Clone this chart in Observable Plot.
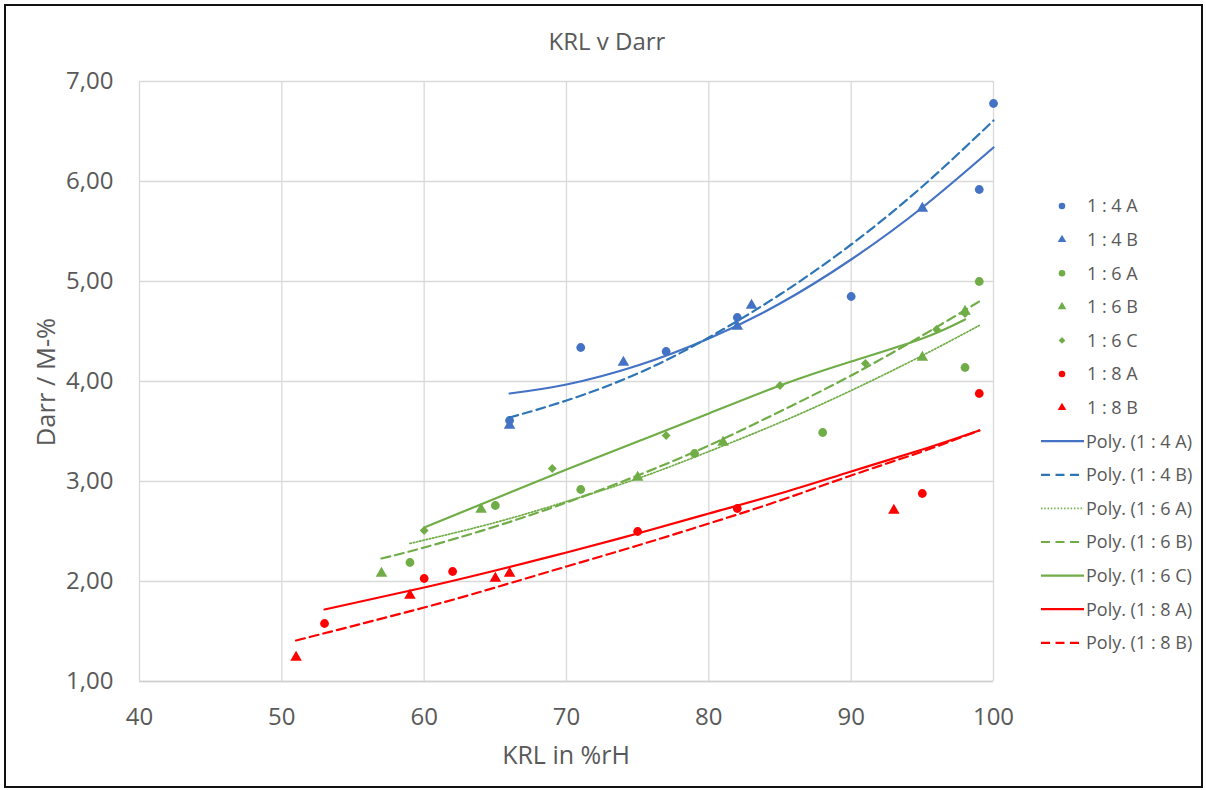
<!DOCTYPE html>
<html>
<head>
<meta charset="utf-8">
<script src="https://cdn.jsdelivr.net/npm/d3@7"></script>
<script src="https://cdn.jsdelivr.net/npm/@observablehq/plot@0.6"></script>
<style>
  body { margin: 0; background: #fff; font-family: "Open Sans", Lato, sans-serif; }
  #wrap { position: relative; width: 1206px; height: 790px; overflow: hidden; background: #fff; }
  #frame { position: absolute; left: 4px; top: 4px; width: 1195px; height: 780px; border: 2px solid #111; box-sizing: content-box; pointer-events: none; }
  .lbl { position: absolute; transform: translate(-50%, -50%); color: #595959; white-space: nowrap; }
  #chart { position: absolute; left: 0; top: 0; }
  #legend { position: absolute; left: 0; top: 0; pointer-events: none; }
</style>
</head>
<body>
<div id="wrap">
  <div id="chart"></div>
  <svg id="legend" width="1206" height="790"></svg>
  <div class="lbl" style="left:607px; top:40px; font-size:24px;">KRL v Darr</div>
  <div class="lbl" style="left:566px; top:754px; font-size:25px;">KRL in %rH</div>
  <div class="lbl" style="left:45px; top:382px; font-size:25.5px; transform: translate(-50%,-50%) rotate(-90deg);">Darr / M-%</div>
  <div id="frame"></div>
</div>
<script>
// ---- axis ticks ----
const xTicks = [40, 50, 60, 70, 80, 90, 100];
const yTicks = [1, 2, 3, 4, 5, 6, 7];

// ---- measured points ----
const krl_14A  = [66, 71, 77, 82, 90, 99, 100];
const darr_14A = [3.61, 4.34, 4.30, 4.64, 4.85, 5.92, 6.78];
const krl_14B  = [66, 74, 82, 83, 95];
const darr_14B = [3.56, 4.19, 4.55, 4.76, 5.73];
const krl_16A  = [59, 65, 71, 79, 88, 98, 99];
const darr_16A = [2.19, 2.76, 2.92, 3.28, 3.49, 4.14, 5.00];
const krl_16B  = [57, 64, 75, 81, 95, 98];
const darr_16B = [2.08, 2.72, 3.04, 3.39, 4.24, 4.70];
const krl_16C  = [60, 69, 77, 85, 91, 96, 98];
const darr_16C = [2.51, 3.13, 3.46, 3.96, 4.18, 4.52, 4.68];
const krl_18A  = [53, 60, 62, 75, 82, 95, 99];
const darr_18A = [1.58, 2.03, 2.10, 2.50, 2.73, 2.88, 3.88];
const krl_18B  = [51, 59, 65, 66, 93];
const darr_18B = [1.24, 1.86, 2.03, 2.08, 2.71];

// ---- polynomial trendlines ----
const tx_14A = [66, 70, 75, 80, 85, 90, 95, 100];
const ty_14A = [3.88, 3.97, 4.16, 4.43, 4.78, 5.22, 5.74, 6.34];
const tx_14B = [66, 70, 75, 80, 85, 90, 95, 100];
const ty_14B = [3.64, 3.81, 4.08, 4.44, 4.87, 5.37, 5.95, 6.61];
const tx_16A = [59, 65, 70, 75, 80, 85, 90, 95, 99];
const ty_16A = [2.38, 2.59, 2.80, 3.03, 3.30, 3.59, 3.91, 4.26, 4.56];
const tx_16B = [57, 60, 65, 70, 75, 80, 85, 90, 95, 99];
const ty_16B = [2.23, 2.34, 2.55, 2.79, 3.06, 3.36, 3.70, 4.06, 4.46, 4.80];
const tx_16C = [60, 65, 70, 75, 80, 85, 90, 95, 98];
const ty_16C = [2.54, 2.83, 3.12, 3.40, 3.68, 3.96, 4.20, 4.43, 4.62];
const tx_18A = [53, 60, 65, 70, 75, 80, 85, 90, 95, 99];
const ty_18A = [1.72, 1.94, 2.11, 2.29, 2.48, 2.68, 2.88, 3.10, 3.32, 3.51];
const tx_18B = [51, 60, 65, 70, 75, 80, 85, 90, 95, 99];
const ty_18B = [1.41, 1.74, 1.94, 2.15, 2.36, 2.58, 2.81, 3.06, 3.30, 3.51];

const BLUE = "#4472c4", BLUE2 = "#2e75b6", GREEN = "#70ad47", RED = "#ff0000";
const FONT = "'Open Sans', Lato, sans-serif";

const pts = (xs, ys) => xs.map((x, i) => ({x, y: ys[i]}));
const fmt = d => d.toFixed(2).replace(".", ",");

const series = [
  {name: "1 : 4 A", data: pts(krl_14A, darr_14A), color: BLUE, symbol: "circle"},
  {name: "1 : 4 B", data: pts(krl_14B, darr_14B), color: BLUE, symbol: "triangle"},
  {name: "1 : 6 A", data: pts(krl_16A, darr_16A), color: GREEN, symbol: "circle"},
  {name: "1 : 6 B", data: pts(krl_16B, darr_16B), color: GREEN, symbol: "triangle"},
  {name: "1 : 6 C", data: pts(krl_16C, darr_16C), color: GREEN, symbol: "diamond2"},
  {name: "1 : 8 A", data: pts(krl_18A, darr_18A), color: RED, symbol: "circle"},
  {name: "1 : 8 B", data: pts(krl_18B, darr_18B), color: RED, symbol: "triangle"}
];
const trends = [
  {name: "Poly. (1 : 4 A)", data: pts(tx_14A, ty_14A), color: BLUE, dash: null, w: 2.2},
  {name: "Poly. (1 : 4 B)", data: pts(tx_14B, ty_14B), color: BLUE2, dash: "9,5", w: 2.2},
  {name: "Poly. (1 : 6 A)", data: pts(tx_16A, ty_16A), color: GREEN, dash: "1.4,1.9", w: 1.7},
  {name: "Poly. (1 : 6 B)", data: pts(tx_16B, ty_16B), color: GREEN, dash: "9,5", w: 2.2},
  {name: "Poly. (1 : 6 C)", data: pts(tx_16C, ty_16C), color: GREEN, dash: null, w: 2.2},
  {name: "Poly. (1 : 8 A)", data: pts(tx_18A, ty_18A), color: RED, dash: null, w: 2.2},
  {name: "Poly. (1 : 8 B)", data: pts(tx_18B, ty_18B), color: RED, dash: "9,5", w: 2.2}
];
const rSym = {circle: 4.4, triangle: 4.3, diamond2: 4.0};

const chart = Plot.plot({
  width: 1206, height: 790,
  marginLeft: 139, marginRight: 213, marginTop: 81, marginBottom: 109,
  style: {fontFamily: FONT, fontSize: "24px", color: "#595959", background: "transparent"},
  x: {domain: [40, 100]},
  y: {domain: [1, 7]},
  marks: [
    Plot.gridX(xTicks, {stroke: "#d9d9d9", strokeOpacity: 1, strokeWidth: 1.3}),
    Plot.gridY(yTicks, {stroke: "#d9d9d9", strokeOpacity: 1, strokeWidth: 1.3}),
    Plot.ruleY([1], {stroke: "#d0d0d0", strokeWidth: 1.5}),
    Plot.axisX(xTicks, {tickSize: 0, tickPadding: 26, fill: "#595959", fontSize: 24, label: null}),
    Plot.axisY(yTicks, {tickSize: 0, tickPadding: 26, tickFormat: fmt, fill: "#595959", fontSize: 24, label: null}),
    ...series.map(s => Plot.dot(s.data, {x: "x", y: "y", symbol: () => s.symbol, fill: s.color, stroke: "none", r: rSym[s.symbol]})),
    ...trends.map(t => Plot.line(t.data, {x: "x", y: "y", curve: "natural", stroke: t.color, strokeWidth: t.w, strokeDasharray: t.dash}))
  ]
});
document.getElementById("chart").appendChild(chart);

// ---- legend ----
const leg = d3.select("#legend");
const symMap = {circle: d3.symbolCircle, triangle: d3.symbolTriangle, diamond2: d3.symbolDiamond2};
const sizeMap = {circle: 34, triangle: 32, diamond2: 28};
const rowY0 = 206, rowStep = 33.6;
series.forEach((s, i) => {
  const y = rowY0 + i * rowStep;
  leg.append("path")
    .attr("d", d3.symbol(symMap[s.symbol], sizeMap[s.symbol])())
    .attr("transform", `translate(1062,${y})`)
    .attr("fill", s.color);
  leg.append("text").attr("x", 1087).attr("y", y).attr("dy", "0.36em")
    .attr("fill", "#595959").attr("font-size", 18).attr("font-family", FONT)
    .text(s.name);
});
trends.forEach((t, i) => {
  const y = rowY0 + (i + 7) * rowStep;
  leg.append("line").attr("x1", 1041).attr("x2", 1084).attr("y1", y).attr("y2", y)
    .attr("stroke", t.color).attr("stroke-width", t.w)
    .attr("stroke-dasharray", t.dash ? (t.dash === "9,5" ? "9,5.5" : "1.4,1.9") : null);
  leg.append("text").attr("x", 1086).attr("y", y).attr("dy", "0.36em")
    .attr("fill", "#595959").attr("font-size", 18).attr("font-family", FONT)
    .text(t.name);
});
</script>
</body>
</html>
